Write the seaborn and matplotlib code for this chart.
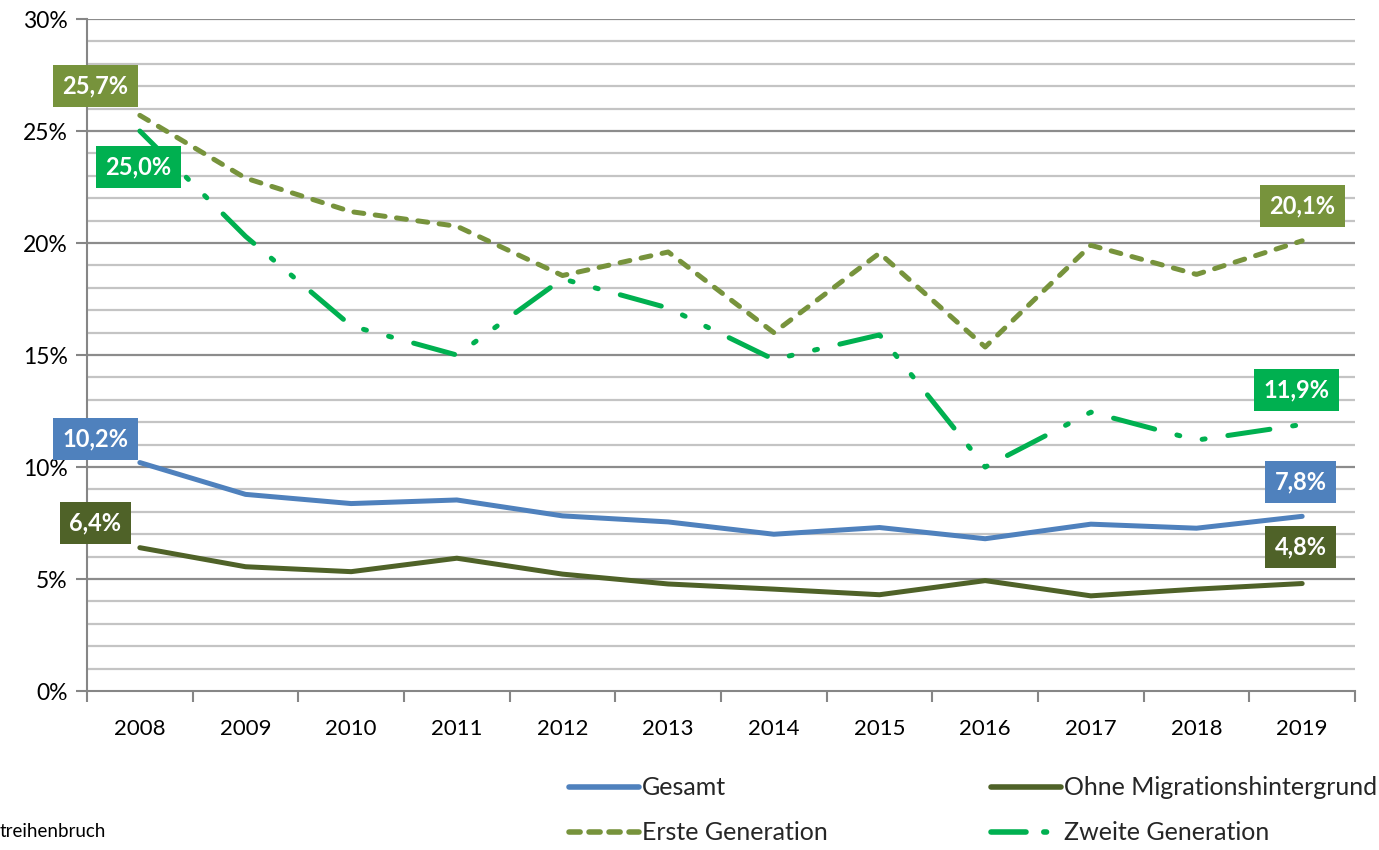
import numpy as np
import pandas as pd
import seaborn as sns
import matplotlib.pyplot as plt
from matplotlib.lines import Line2D
from matplotlib.ticker import MultipleLocator, FixedLocator

sns.set_theme(style="white")
plt.rcParams['font.family'] = ['Lato', 'DejaVu Sans']

years = ["2008", "2009", "2010", "2011", "2012", "2013", "2014", "2015", "2016", "2017", "2018", "2019"]
gesamt = [10.2, 8.78, 8.37, 8.53, 7.82, 7.55, 7.0, 7.3, 6.8, 7.45, 7.27, 7.8]
ohne = [6.4, 5.55, 5.33, 5.93, 5.22, 4.78, 4.55, 4.3, 4.93, 4.25, 4.55, 4.8]
erste = [25.7, 22.9, 21.4, 20.75, 18.55, 19.6, 16.0, 19.55, 15.36, 19.9, 18.6, 20.1]
zweite = [25.0, 20.3, 16.3, 15.0, 18.4, 17.1, 14.8, 15.9, 10.0, 12.45, 11.2, 11.9]

blue = '#4F81BD'
dark_olive = '#4F6228'
olive = '#77933C'
green = '#00B050'

df = pd.DataFrame({"idx": np.arange(len(years)), "Gesamt": gesamt, "Ohne": ohne,
                   "Erste": erste, "Zweite": zweite})

fig = plt.figure(figsize=(13.79, 8.5), dpi=100)
ax = fig.add_axes([0.0631, 0.187, 0.9195, 0.7906])

lw = 3.6
sns.lineplot(x="idx", y="Gesamt", data=df, color=blue, linewidth=lw, ax=ax)
sns.lineplot(x="idx", y="Ohne", data=df, color=dark_olive, linewidth=lw, ax=ax)
sns.lineplot(x="idx", y="Erste", data=df, color=olive, linewidth=lw, ax=ax)
sns.lineplot(x="idx", y="Zweite", data=df, color=green, linewidth=lw, ax=ax)

dash_erste = (2.0, 2.3)
dash_zweite = (8.5, 4.6, 0.6, 4.6, 0.6, 4.6)
for ln in ax.lines:
    ln.set_solid_capstyle('round')
    ln.set_dash_capstyle('round')
ax.lines[2].set_dashes(dash_erste)
ax.lines[3].set_dashes(dash_zweite)

ax.set_xlim(-0.5, 11.5)
ax.set_ylim(0, 30)

# grid: 1% light lines, 5% darker
for v in range(1, 31):
    c = '#8C8C8C' if v % 5 == 0 else '#C4C4C4'
    ax.axhline(v, color=c, lw=1.6, zorder=0)

ax.yaxis.set_major_locator(MultipleLocator(5))
ax.set_yticklabels([f"{int(t)}%" for t in ax.get_yticks()])
ax.xaxis.set_major_locator(FixedLocator(np.arange(-0.5, 12, 1)))
ax.xaxis.set_minor_locator(FixedLocator(np.arange(0, 12)))
ax.set_xticklabels([])
ax.set_xticklabels(years, minor=True)
ax.tick_params(axis='x', which='minor', length=0, pad=20, labelsize=16, labelcolor='black')
ax.tick_params(axis='x', which='major', length=8, width=1.5, color='#868686', direction='out', bottom=True)
ax.tick_params(axis='y', length=8, width=1.5, color='#868686', direction='out', left=True,
               labelsize=16.5, labelcolor='black', pad=6)
ax.set_xlabel("")
ax.set_ylabel("")

for s in ['top', 'right']:
    ax.spines[s].set_visible(False)
for s in ['left', 'bottom']:
    ax.spines[s].set_color('#868686')
    ax.spines[s].set_linewidth(1.5)

labels = [
    (0, erste[0], "25,7%", olive, (-32, 21)),
    (0, zweite[0], "25,0%", green, (-1, -26)),
    (0, gesamt[0], "10,2%", blue, (-32, 17)),
    (0, ohne[0], "6,4%", dark_olive, (-32, 18)),
    (11, erste[11], "20,1%", olive, (0, 25)),
    (11, zweite[11], "11,9%", green, (-4, 25)),
    (11, gesamt[11], "7,8%", blue, (-1, 25)),
    (11, ohne[11], "4,8%", dark_olive, (-1, 26)),
]
for x, y, t, c, off in labels:
    ax.annotate(t, xy=(x, y), xytext=off, textcoords='offset points', ha='center', va='center',
                color='white', fontsize=17, fontweight='bold',
                bbox=dict(boxstyle='square,pad=0.4', fc=c, ec='none'))

handles = [
    Line2D([], [], color=blue, lw=4, solid_capstyle='round'),
    Line2D([], [], color=olive, lw=4, dashes=(2.0, 1.6), dash_capstyle='round'),
    Line2D([], [], color=dark_olive, lw=4, solid_capstyle='round'),
    Line2D([], [], color=green, lw=4, dashes=(6.3, 3.2, 0.5, 3.2), dash_capstyle='round'),
]
names = ["Gesamt", "Erste Generation", "Ohne Migrationshintergrund", "Zweite Generation"]
fig.legend(handles, names, ncol=2, loc='upper left', bbox_to_anchor=(0.396, 0.113),
           frameon=False, fontsize=18, handlelength=2.8, handletextpad=0.15,
           columnspacing=6.5, labelspacing=0.88)

fig.text(0.0, 0.012, "treihenbruch", ha='left', va='bottom', fontsize=13.5, color='black')

fig.savefig("out.png", dpi=100, facecolor='white')
